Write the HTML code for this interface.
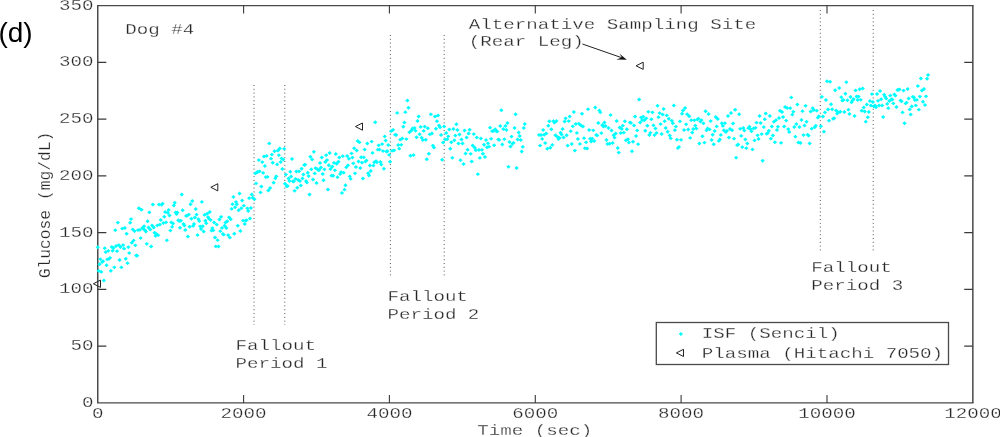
<!DOCTYPE html><html><head><meta charset="utf-8"><title>Dog #4 glucose</title>
<style>html,body{margin:0;padding:0;background:#fff}svg{display:block}text{font-family:"Liberation Mono","DejaVu Sans Mono",monospace;font-size:14.5px;fill:#262626;stroke:#fff;stroke-width:0.25px}.lab{font-family:"Liberation Sans",Arial,sans-serif;font-size:28px;fill:#000;stroke:none}.ax{stroke:#4a4a4a;stroke-width:1.3;fill:none}.axv{stroke:#4a4a4a;stroke-width:1.5;fill:none}.dot{stroke:#555;stroke-width:1;stroke-dasharray:1 2.8;fill:none}.tri{stroke:#222;stroke-width:1;fill:none}</style></head><body>
<svg width="1000" height="437" viewBox="0 0 1000 437">
<rect width="1000" height="437" fill="#fff"/>
<path class="ax" d="M97.05 5.6H973.5500000000001M97.05 402.9H973.5500000000001"/>
<path class="axv" d="M97.75 5.6V402.9M972.85 5.6V402.9"/>
<path class="axv" style="stroke-width:1.1;stroke:#3a3a3a" d="M243.6 402.9v-8M243.6 5.6v8M389.4 402.9v-8M389.4 5.6v8M535.3 402.9v-8M535.3 5.6v8M681.1 402.9v-8M681.1 5.6v8M827.0 402.9v-8M827.0 5.6v8"/>
<path class="ax" style="stroke-width:1.1;stroke:#3a3a3a" d="M97.75 346.1h8.6M972.85 346.1h-8.6M97.75 289.4h8.6M972.85 289.4h-8.6M97.75 232.6h8.6M972.85 232.6h-8.6M97.75 175.9h8.6M972.85 175.9h-8.6M97.75 119.1h8.6M972.85 119.1h-8.6M97.75 62.4h8.6M972.85 62.4h-8.6"/>
<text transform="translate(97.8,417.5) scale(1.322,1)" text-anchor="middle">0</text>
<text transform="translate(243.6,417.5) scale(1.322,1)" text-anchor="middle">2000</text>
<text transform="translate(389.4,417.5) scale(1.322,1)" text-anchor="middle">4000</text>
<text transform="translate(535.3,417.5) scale(1.322,1)" text-anchor="middle">6000</text>
<text transform="translate(681.1,417.5) scale(1.322,1)" text-anchor="middle">8000</text>
<text transform="translate(827.0,417.5) scale(1.322,1)" text-anchor="middle">10000</text>
<text transform="translate(972.9,417.5) scale(1.322,1)" text-anchor="middle">12000</text>
<text transform="translate(93.5,406.9) scale(1.322,1)" text-anchor="end">0</text>
<text transform="translate(93.5,350.1) scale(1.322,1)" text-anchor="end">50</text>
<text transform="translate(93.5,293.4) scale(1.322,1)" text-anchor="end">100</text>
<text transform="translate(93.5,236.6) scale(1.322,1)" text-anchor="end">150</text>
<text transform="translate(93.5,179.9) scale(1.322,1)" text-anchor="end">200</text>
<text transform="translate(93.5,123.1) scale(1.322,1)" text-anchor="end">250</text>
<text transform="translate(93.5,66.4) scale(1.322,1)" text-anchor="end">300</text>
<text transform="translate(93.5,9.6) scale(1.322,1)" text-anchor="end">350</text>
<text transform="translate(534.7,434.6) scale(1.322,1)" text-anchor="middle">Time (sec)</text>
<text transform="translate(50.2,205) rotate(-90)" text-anchor="middle" style="font-size:16.3px;stroke-width:0.2px">Glucose (mg/dL)</text>
<text class="lab" x="-1.6" y="42.2">(d)</text>
<path class="dot" d="M254 85V325"/>
<path class="dot" d="M284.8 85V325"/>
<path class="dot" d="M390.4 35V276"/>
<path class="dot" d="M444.2 35V276"/>
<path class="dot" d="M820.3 10V251"/>
<path class="dot" d="M873.2 10V251"/>
<path d="M95.6 247.2L97.8 245.3L99.9 247.2L97.8 249.2ZM96.5 270.8L98.6 268.9L100.8 270.8L98.6 272.8ZM97.4 264.3L99.5 262.3L101.7 264.3L99.5 266.2ZM98.2 259.2L100.4 257.2L102.5 259.2L100.4 261.1ZM99.1 271.9L101.3 269.9L103.4 271.9L101.3 273.8ZM100.0 262.0L102.1 260.1L104.3 262.0L102.1 264.0ZM100.9 261.3L103.0 259.3L105.2 261.3L103.0 263.2ZM101.7 280.4L103.9 278.5L106.0 280.4L103.9 282.4ZM102.6 248.2L104.8 246.2L106.9 248.2L104.8 250.1ZM103.5 252.1L105.6 250.2L107.8 252.1L105.6 254.1ZM104.4 265.3L106.5 263.3L108.7 265.3L106.5 267.2ZM105.2 259.3L107.4 257.4L109.5 259.3L107.4 261.3ZM106.1 250.9L108.3 248.9L110.4 250.9L108.3 252.8ZM107.0 258.8L109.1 256.9L111.3 258.8L109.1 260.8ZM107.9 257.8L110.0 255.9L112.2 257.8L110.0 259.8ZM108.7 270.8L110.9 268.9L113.0 270.8L110.9 272.8ZM109.6 247.0L111.8 245.0L113.9 247.0L111.8 248.9ZM110.5 250.8L112.6 248.8L114.8 250.8L112.6 252.7ZM111.4 248.0L113.5 246.0L115.7 248.0L113.5 249.9ZM112.2 267.3L114.4 265.4L116.5 267.3L114.4 269.3ZM113.1 230.2L115.3 228.2L117.4 230.2L115.3 232.1ZM114.0 246.1L116.1 244.1L118.3 246.1L116.1 248.0ZM114.9 251.2L117.0 249.2L119.2 251.2L117.0 253.1ZM115.7 222.6L117.9 220.7L120.0 222.6L117.9 224.6ZM116.6 245.1L118.8 243.2L120.9 245.1L118.8 247.1ZM117.5 260.0L119.6 258.0L121.8 260.0L119.6 261.9ZM118.4 247.0L120.5 245.1L122.7 247.0L120.5 249.0ZM119.2 267.3L121.4 265.4L123.5 267.3L121.4 269.3ZM120.1 228.6L122.3 226.7L124.4 228.6L122.3 230.6ZM121.0 245.1L123.1 243.2L125.3 245.1L123.1 247.1ZM121.9 248.7L124.0 246.7L126.2 248.7L124.0 250.6ZM122.7 228.0L124.9 226.0L127.0 228.0L124.9 229.9ZM123.6 258.7L125.8 256.8L127.9 258.7L125.8 260.7ZM124.5 233.8L126.6 231.8L128.8 233.8L126.6 235.7ZM125.4 263.2L127.5 261.2L129.7 263.2L127.5 265.1ZM126.2 247.1L128.4 245.2L130.5 247.1L128.4 249.1ZM127.1 253.1L129.3 251.2L131.4 253.1L129.3 255.1ZM128.0 222.7L130.1 220.8L132.3 222.7L130.1 224.7ZM128.9 219.1L131.0 217.2L133.2 219.1L131.0 221.1ZM129.7 242.8L131.9 240.8L134.0 242.8L131.9 244.7ZM130.6 229.4L132.8 227.4L134.9 229.4L132.8 231.3ZM131.5 240.4L133.6 238.4L135.8 240.4L133.6 242.3ZM132.4 231.1L134.5 229.2L136.7 231.1L134.5 233.1ZM133.2 245.3L135.4 243.4L137.5 245.3L135.4 247.3ZM134.1 255.4L136.3 253.5L138.4 255.4L136.3 257.4ZM135.0 255.7L137.1 253.8L139.3 255.7L137.1 257.7ZM135.9 230.1L138.0 228.2L140.2 230.1L138.0 232.1ZM136.7 208.2L138.9 206.3L141.0 208.2L138.9 210.2ZM137.6 229.9L139.8 227.9L141.9 229.9L139.8 231.8ZM138.5 238.1L140.6 236.2L142.8 238.1L140.6 240.1ZM139.4 209.7L141.5 207.8L143.7 209.7L141.5 211.7ZM140.2 228.0L142.4 226.0L144.5 228.0L142.4 229.9ZM141.1 228.7L143.3 226.8L145.4 228.7L143.3 230.7ZM142.0 226.3L144.1 224.3L146.3 226.3L144.1 228.2ZM142.9 230.1L145.0 228.2L147.2 230.1L145.0 232.1ZM143.7 231.6L145.9 229.6L148.0 231.6L145.9 233.5ZM144.6 243.8L146.8 241.9L148.9 243.8L146.8 245.8ZM145.5 221.3L147.6 219.3L149.8 221.3L147.6 223.2ZM146.4 227.5L148.5 225.6L150.7 227.5L148.5 229.5ZM147.2 212.3L149.4 210.4L151.5 212.3L149.4 214.3ZM148.1 229.5L150.3 227.6L152.4 229.5L150.3 231.5ZM149.0 246.4L151.1 244.5L153.3 246.4L151.1 248.4ZM149.9 225.4L152.0 223.4L154.2 225.4L152.0 227.3ZM150.7 204.4L152.9 202.5L155.0 204.4L152.9 206.4ZM151.6 227.5L153.8 225.6L155.9 227.5L153.8 229.5ZM152.5 232.7L154.6 230.8L156.8 232.7L154.6 234.7ZM153.4 235.9L155.5 233.9L157.7 235.9L155.5 237.8ZM154.2 234.0L156.4 232.1L158.5 234.0L156.4 236.0ZM155.1 225.4L157.3 223.4L159.4 225.4L157.3 227.3ZM156.0 235.2L158.1 233.2L160.3 235.2L158.1 237.1ZM156.9 204.6L159.0 202.6L161.2 204.6L159.0 206.5ZM157.7 224.6L159.9 222.7L162.0 224.6L159.9 226.6ZM158.6 220.0L160.8 218.0L162.9 220.0L160.8 221.9ZM159.5 204.7L161.6 202.8L163.8 204.7L161.6 206.7ZM160.4 203.8L162.5 201.8L164.7 203.8L162.5 205.7ZM161.2 223.1L163.4 221.1L165.5 223.1L163.4 225.0ZM162.1 216.7L164.3 214.8L166.4 216.7L164.3 218.7ZM163.0 212.0L165.1 210.0L167.3 212.0L165.1 213.9ZM163.9 222.3L166.0 220.4L168.2 222.3L166.0 224.3ZM164.7 240.3L166.9 238.4L169.0 240.3L166.9 242.3ZM165.6 212.7L167.8 210.8L169.9 212.7L167.8 214.7ZM166.5 210.0L168.6 208.0L170.8 210.0L168.6 211.9ZM167.4 215.4L169.5 213.5L171.7 215.4L169.5 217.4ZM168.2 230.6L170.4 228.7L172.5 230.6L170.4 232.6ZM169.1 222.4L171.3 220.4L173.4 222.4L171.3 224.3ZM170.0 226.8L172.1 224.9L174.3 226.8L172.1 228.8ZM170.9 223.5L173.0 221.6L175.2 223.5L173.0 225.5ZM171.7 205.4L173.9 203.5L176.0 205.4L173.9 207.4ZM172.6 202.8L174.8 200.8L176.9 202.8L174.8 204.7ZM173.5 212.5L175.6 210.6L177.8 212.5L175.6 214.5ZM174.4 213.9L176.5 212.0L178.7 213.9L176.5 215.9ZM175.2 212.5L177.4 210.5L179.5 212.5L177.4 214.4ZM176.1 220.3L178.3 218.3L180.4 220.3L178.3 222.2ZM177.0 221.0L179.1 219.1L181.3 221.0L179.1 223.0ZM177.9 227.8L180.0 225.8L182.2 227.8L180.0 229.7ZM178.7 220.8L180.9 218.8L183.0 220.8L180.9 222.7ZM179.6 194.5L181.8 192.5L183.9 194.5L181.8 196.4ZM180.5 210.3L182.6 208.3L184.8 210.3L182.6 212.2ZM181.4 224.0L183.5 222.1L185.7 224.0L183.5 226.0ZM182.2 225.5L184.4 223.5L186.5 225.5L184.4 227.4ZM183.1 230.0L185.3 228.0L187.4 230.0L185.3 231.9ZM184.0 215.9L186.1 213.9L188.3 215.9L186.1 217.8ZM184.9 215.7L187.0 213.7L189.2 215.7L187.0 217.6ZM185.7 236.5L187.9 234.6L190.0 236.5L187.9 238.5ZM186.6 214.7L188.8 212.7L190.9 214.7L188.8 216.6ZM187.5 226.8L189.6 224.8L191.8 226.8L189.6 228.7ZM188.4 204.2L190.5 202.3L192.7 204.2L190.5 206.2ZM189.2 218.7L191.4 216.8L193.5 218.7L191.4 220.7ZM190.1 201.1L192.3 199.1L194.4 201.1L192.3 203.0ZM191.0 225.9L193.1 223.9L195.3 225.9L193.1 227.8ZM191.9 224.0L194.0 222.1L196.2 224.0L194.0 226.0ZM192.7 217.4L194.9 215.5L197.0 217.4L194.9 219.4ZM193.6 209.0L195.8 207.0L197.9 209.0L195.8 210.9ZM194.5 214.6L196.6 212.7L198.8 214.6L196.6 216.6ZM195.4 235.1L197.5 233.2L199.7 235.1L197.5 237.1ZM196.2 219.1L198.4 217.2L200.5 219.1L198.4 221.1ZM197.1 221.1L199.3 219.1L201.4 221.1L199.3 223.0ZM198.0 226.3L200.1 224.4L202.3 226.3L200.1 228.3ZM198.9 228.9L201.0 227.0L203.2 228.9L201.0 230.9ZM199.7 201.9L201.9 199.9L204.0 201.9L201.9 203.8ZM200.6 226.3L202.8 224.3L204.9 226.3L202.8 228.2ZM201.5 231.6L203.6 229.6L205.8 231.6L203.6 233.5ZM202.4 214.9L204.5 212.9L206.7 214.9L204.5 216.8ZM203.2 220.8L205.4 218.8L207.5 220.8L205.4 222.7ZM204.1 223.3L206.3 221.3L208.4 223.3L206.3 225.2ZM205.0 213.7L207.1 211.7L209.3 213.7L207.1 215.6ZM205.9 217.1L208.0 215.2L210.2 217.1L208.0 219.1ZM206.7 218.7L208.9 216.7L211.0 218.7L208.9 220.6ZM207.6 212.0L209.8 210.0L211.9 212.0L209.8 213.9ZM208.5 220.0L210.6 218.1L212.8 220.0L210.6 222.0ZM209.4 230.6L211.5 228.7L213.7 230.6L211.5 232.6ZM210.2 228.1L212.4 226.2L214.5 228.1L212.4 230.1ZM211.1 230.3L213.3 228.4L215.4 230.3L213.3 232.3ZM212.0 222.4L214.1 220.5L216.3 222.4L214.1 224.4ZM212.9 237.4L215.0 235.5L217.2 237.4L215.0 239.4ZM213.7 246.4L215.9 244.4L218.0 246.4L215.9 248.3ZM214.6 224.6L216.8 222.7L218.9 224.6L216.8 226.6ZM215.5 240.2L217.6 238.2L219.8 240.2L217.6 242.1ZM216.4 246.5L218.5 244.6L220.7 246.5L218.5 248.5ZM217.2 219.5L219.4 217.5L221.5 219.5L219.4 221.4ZM218.1 231.2L220.3 229.2L222.4 231.2L220.3 233.1ZM219.0 216.8L221.1 214.9L223.3 216.8L221.1 218.8ZM219.9 227.9L222.0 225.9L224.2 227.9L222.0 229.8ZM220.7 233.9L222.9 232.0L225.0 233.9L222.9 235.9ZM221.6 234.7L223.8 232.7L225.9 234.7L223.8 236.6ZM222.5 225.8L224.6 223.8L226.8 225.8L224.6 227.7ZM223.4 222.4L225.5 220.5L227.7 222.4L225.5 224.4ZM224.2 228.0L226.4 226.1L228.5 228.0L226.4 230.0ZM225.1 221.2L227.3 219.3L229.4 221.2L227.3 223.2ZM226.0 235.1L228.1 233.2L230.3 235.1L228.1 237.1ZM226.9 217.3L229.0 215.4L231.2 217.3L229.0 219.3ZM227.7 237.6L229.9 235.7L232.0 237.6L229.9 239.6ZM228.6 219.2L230.8 217.3L232.9 219.2L230.8 221.2ZM229.5 208.9L231.6 206.9L233.8 208.9L231.6 210.8ZM230.4 204.2L232.5 202.2L234.7 204.2L232.5 206.1ZM231.2 196.9L233.4 194.9L235.5 196.9L233.4 198.8ZM232.1 233.8L234.3 231.8L236.4 233.8L234.3 235.7ZM233.0 207.3L235.1 205.3L237.3 207.3L235.1 209.2ZM233.9 202.0L236.0 200.0L238.2 202.0L236.0 203.9ZM234.7 204.3L236.9 202.4L239.0 204.3L236.9 206.3ZM235.6 225.8L237.8 223.8L239.9 225.8L237.8 227.7ZM236.5 210.3L238.6 208.3L240.8 210.3L238.6 212.2ZM237.4 193.4L239.5 191.5L241.7 193.4L239.5 195.4ZM238.2 231.1L240.4 229.1L242.5 231.1L240.4 233.0ZM239.1 208.2L241.3 206.3L243.4 208.2L241.3 210.2ZM240.0 200.5L242.1 198.6L244.3 200.5L242.1 202.5ZM240.9 220.6L243.0 218.7L245.2 220.6L243.0 222.6ZM241.7 205.7L243.9 203.7L246.0 205.7L243.9 207.6ZM242.6 224.0L244.8 222.0L246.9 224.0L244.8 225.9ZM243.5 220.6L245.6 218.7L247.8 220.6L245.6 222.6ZM244.4 220.2L246.5 218.3L248.7 220.2L246.5 222.2ZM245.2 208.3L247.4 206.4L249.5 208.3L247.4 210.3ZM246.1 211.1L248.3 209.1L250.4 211.1L248.3 213.0ZM247.0 198.2L249.1 196.2L251.3 198.2L249.1 200.1ZM247.9 218.4L250.0 216.5L252.2 218.4L250.0 220.4ZM248.7 208.0L250.9 206.1L253.0 208.0L250.9 210.0ZM249.6 194.4L251.8 192.4L253.9 194.4L251.8 196.3ZM250.5 197.7L252.6 195.7L254.8 197.7L252.6 199.6ZM252.2 199.3L254.4 197.3L256.5 199.3L254.4 201.2ZM253.1 173.4L255.3 171.4L257.4 173.4L255.3 175.3ZM254.0 183.4L256.1 181.4L258.3 183.4L256.1 185.3ZM254.9 172.2L257.0 170.3L259.2 172.2L257.0 174.2ZM255.7 171.9L257.9 169.9L260.0 171.9L257.9 173.8ZM256.6 160.1L258.8 158.2L260.9 160.1L258.8 162.1ZM257.5 171.3L259.6 169.4L261.8 171.3L259.6 173.3ZM258.4 192.4L260.5 190.4L262.7 192.4L260.5 194.3ZM259.2 186.4L261.4 184.5L263.5 186.4L261.4 188.4ZM260.1 162.1L262.3 160.2L264.4 162.1L262.3 164.1ZM261.0 172.9L263.1 170.9L265.3 172.9L263.1 174.8ZM261.9 156.6L264.0 154.6L266.2 156.6L264.0 158.5ZM262.7 166.0L264.9 164.0L267.0 166.0L264.9 167.9ZM263.6 177.1L265.8 175.2L267.9 177.1L265.8 179.1ZM264.5 155.9L266.6 153.9L268.8 155.9L266.6 157.8ZM265.4 176.9L267.5 174.9L269.7 176.9L267.5 178.8ZM266.2 190.6L268.4 188.6L270.5 190.6L268.4 192.5ZM267.1 143.4L269.3 141.4L271.4 143.4L269.3 145.3ZM268.0 188.0L270.1 186.1L272.3 188.0L270.1 190.0ZM268.9 158.7L271.0 156.7L273.2 158.7L271.0 160.6ZM269.7 154.6L271.9 152.7L274.0 154.6L271.9 156.6ZM270.6 162.8L272.8 160.8L274.9 162.8L272.8 164.7ZM271.5 182.7L273.6 180.8L275.8 182.7L273.6 184.7ZM272.4 151.2L274.5 149.3L276.7 151.2L274.5 153.2ZM273.2 178.3L275.4 176.3L277.5 178.3L275.4 180.2ZM274.1 176.3L276.3 174.4L278.4 176.3L276.3 178.3ZM275.0 164.4L277.1 162.4L279.3 164.4L277.1 166.3ZM275.9 150.5L278.0 148.5L280.2 150.5L278.0 152.4ZM276.7 155.2L278.9 153.2L281.0 155.2L278.9 157.1ZM277.6 148.5L279.8 146.6L281.9 148.5L279.8 150.5ZM278.5 161.9L280.6 160.0L282.8 161.9L280.6 163.9ZM279.4 158.4L281.5 156.4L283.7 158.4L281.5 160.3ZM280.2 169.0L282.4 167.1L284.5 169.0L282.4 171.0ZM281.1 159.4L283.3 157.5L285.4 159.4L283.3 161.4ZM282.0 148.8L284.1 146.9L286.3 148.8L284.1 150.8ZM282.9 183.8L285.0 181.8L287.2 183.8L285.0 185.7ZM283.7 174.6L285.9 172.7L288.0 174.6L285.9 176.6ZM284.6 186.2L286.8 184.3L288.9 186.2L286.8 188.2ZM285.5 186.1L287.6 184.1L289.8 186.1L287.6 188.0ZM286.4 178.6L288.5 176.6L290.7 178.6L288.5 180.5ZM287.2 180.9L289.4 179.0L291.5 180.9L289.4 182.9ZM288.1 171.8L290.3 169.8L292.4 171.8L290.3 173.7ZM289.0 176.6L291.1 174.6L293.3 176.6L291.1 178.5ZM289.9 159.0L292.0 157.0L294.2 159.0L292.0 160.9ZM290.7 181.3L292.9 179.4L295.0 181.3L292.9 183.3ZM291.6 181.5L293.8 179.5L295.9 181.5L293.8 183.4ZM292.5 190.8L294.6 188.9L296.8 190.8L294.6 192.8ZM293.4 178.9L295.5 176.9L297.7 178.9L295.5 180.8ZM294.2 171.5L296.4 169.5L298.5 171.5L296.4 173.4ZM295.1 187.7L297.3 185.8L299.4 187.7L297.3 189.7ZM296.0 180.0L298.1 178.0L300.3 180.0L298.1 181.9ZM296.9 171.3L299.0 169.4L301.2 171.3L299.0 173.3ZM297.7 181.0L299.9 179.1L302.0 181.0L299.9 183.0ZM298.6 185.6L300.8 183.6L302.9 185.6L300.8 187.5ZM299.5 168.8L301.6 166.8L303.8 168.8L301.6 170.7ZM300.4 178.4L302.5 176.4L304.7 178.4L302.5 180.3ZM301.2 174.4L303.4 172.5L305.5 174.4L303.4 176.4ZM302.1 165.0L304.3 163.1L306.4 165.0L304.3 167.0ZM303.0 164.8L305.1 162.8L307.3 164.8L305.1 166.7ZM303.9 181.1L306.0 179.2L308.2 181.1L306.0 183.1ZM304.7 182.6L306.9 180.6L309.0 182.6L306.9 184.5ZM305.6 172.8L307.8 170.8L309.9 172.8L307.8 174.7ZM306.5 176.1L308.6 174.2L310.8 176.1L308.6 178.1ZM307.4 194.5L309.5 192.5L311.7 194.5L309.5 196.4ZM308.2 156.8L310.4 154.8L312.5 156.8L310.4 158.7ZM309.1 169.3L311.3 167.4L313.4 169.3L311.3 171.3ZM310.0 159.5L312.1 157.6L314.3 159.5L312.1 161.5ZM310.9 179.5L313.0 177.6L315.2 179.5L313.0 181.5ZM311.7 151.8L313.9 149.9L316.0 151.8L313.9 153.8ZM312.6 173.4L314.8 171.4L316.9 173.4L314.8 175.3ZM313.5 168.1L315.6 166.2L317.8 168.1L315.6 170.1ZM314.4 183.0L316.5 181.1L318.7 183.0L316.5 185.0ZM315.3 169.3L317.4 167.3L319.6 169.3L317.4 171.2ZM316.1 170.2L318.3 168.2L320.4 170.2L318.3 172.1ZM317.0 169.9L319.2 168.0L321.3 169.9L319.2 171.9ZM317.9 163.1L320.0 161.1L322.2 163.1L320.0 165.0ZM318.8 167.6L320.9 165.6L323.1 167.6L320.9 169.5ZM319.6 157.4L321.8 155.5L323.9 157.4L321.8 159.4ZM320.5 174.0L322.7 172.1L324.8 174.0L322.7 176.0ZM321.4 180.2L323.5 178.3L325.7 180.2L323.5 182.2ZM322.3 169.3L324.4 167.4L326.6 169.3L324.4 171.3ZM323.1 162.1L325.3 160.1L327.4 162.1L325.3 164.0ZM324.0 155.2L326.2 153.2L328.3 155.2L326.2 157.1ZM324.9 160.1L327.0 158.2L329.2 160.1L327.0 162.1ZM325.8 189.5L327.9 187.6L330.1 189.5L327.9 191.5ZM326.6 165.3L328.8 163.3L330.9 165.3L328.8 167.2ZM327.5 153.1L329.7 151.1L331.8 153.1L329.7 155.0ZM328.4 169.0L330.5 167.1L332.7 169.0L330.5 171.0ZM329.3 175.7L331.4 173.7L333.6 175.7L331.4 177.6ZM330.1 166.4L332.3 164.5L334.4 166.4L332.3 168.4ZM331.0 175.7L333.2 173.8L335.3 175.7L333.2 177.7ZM331.9 162.8L334.0 160.9L336.2 162.8L334.0 164.8ZM332.8 170.3L334.9 168.4L337.1 170.3L334.9 172.3ZM333.6 154.0L335.8 152.1L337.9 154.0L335.8 156.0ZM334.5 163.7L336.7 161.8L338.8 163.7L336.7 165.7ZM335.4 177.2L337.5 175.2L339.7 177.2L337.5 179.1ZM336.3 161.7L338.4 159.7L340.6 161.7L338.4 163.6ZM337.1 157.5L339.3 155.5L341.4 157.5L339.3 159.4ZM338.0 174.1L340.2 172.2L342.3 174.1L340.2 176.1ZM338.9 172.1L341.0 170.2L343.2 172.1L341.0 174.1ZM339.8 193.0L341.9 191.1L344.1 193.0L341.9 195.0ZM340.6 156.2L342.8 154.2L344.9 156.2L342.8 158.1ZM341.5 172.7L343.7 170.7L345.8 172.7L343.7 174.6ZM342.4 189.7L344.5 187.7L346.7 189.7L344.5 191.6ZM343.3 185.2L345.4 183.3L347.6 185.2L345.4 187.2ZM344.1 167.3L346.3 165.4L348.4 167.3L346.3 169.3ZM345.0 155.9L347.2 154.0L349.3 155.9L347.2 157.9ZM345.9 165.3L348.0 163.4L350.2 165.3L348.0 167.3ZM346.8 158.8L348.9 156.8L351.1 158.8L348.9 160.7ZM347.6 176.4L349.8 174.4L351.9 176.4L349.8 178.3ZM348.5 178.9L350.7 176.9L352.8 178.9L350.7 180.8ZM349.4 153.4L351.5 151.4L353.7 153.4L351.5 155.3ZM350.3 157.6L352.4 155.7L354.6 157.6L352.4 159.6ZM351.1 163.3L353.3 161.4L355.4 163.3L353.3 165.3ZM352.0 148.2L354.2 146.3L356.3 148.2L354.2 150.2ZM352.9 173.3L355.0 171.4L357.2 173.3L355.0 175.3ZM353.8 167.1L355.9 165.1L358.1 167.1L355.9 169.0ZM354.6 150.4L356.8 148.5L358.9 150.4L356.8 152.4ZM355.5 141.0L357.7 139.0L359.8 141.0L357.7 142.9ZM356.4 161.5L358.5 159.6L360.7 161.5L358.5 163.5ZM357.3 142.3L359.4 140.4L361.6 142.3L359.4 144.3ZM358.1 168.0L360.3 166.1L362.4 168.0L360.3 170.0ZM359.0 157.2L361.2 155.3L363.3 157.2L361.2 159.2ZM359.9 162.7L362.0 160.7L364.2 162.7L362.0 164.6ZM360.8 178.5L362.9 176.6L365.1 178.5L362.9 180.5ZM361.6 157.3L363.8 155.4L365.9 157.3L363.8 159.3ZM362.5 149.5L364.7 147.5L366.8 149.5L364.7 151.4ZM363.4 161.5L365.5 159.6L367.7 161.5L365.5 163.5ZM364.3 160.4L366.4 158.4L368.6 160.4L366.4 162.3ZM365.1 143.6L367.3 141.6L369.4 143.6L367.3 145.5ZM366.0 173.3L368.2 171.3L370.3 173.3L368.2 175.2ZM366.9 175.5L369.0 173.6L371.2 175.5L369.0 177.5ZM367.8 165.4L369.9 163.5L372.1 165.4L369.9 167.4ZM368.6 171.0L370.8 169.1L372.9 171.0L370.8 173.0ZM369.5 141.6L371.7 139.7L373.8 141.6L371.7 143.6ZM370.4 152.9L372.5 150.9L374.7 152.9L372.5 154.8ZM371.3 165.6L373.4 163.7L375.6 165.6L373.4 167.6ZM372.1 162.3L374.3 160.3L376.4 162.3L374.3 164.2ZM373.0 122.3L375.2 120.3L377.3 122.3L375.2 124.2ZM373.9 161.1L376.0 159.2L378.2 161.1L376.0 163.1ZM374.8 162.3L376.9 160.4L379.1 162.3L376.9 164.3ZM375.6 149.7L377.8 147.7L379.9 149.7L377.8 151.6ZM376.5 145.3L378.7 143.4L380.8 145.3L378.7 147.3ZM377.4 149.6L379.5 147.7L381.7 149.6L379.5 151.6ZM378.3 162.0L380.4 160.1L382.6 162.0L380.4 164.0ZM379.1 164.5L381.3 162.5L383.4 164.5L381.3 166.4ZM380.0 144.1L382.2 142.2L384.3 144.1L382.2 146.1ZM380.9 151.1L383.0 149.2L385.2 151.1L383.0 153.1ZM381.8 168.7L383.9 166.8L386.1 168.7L383.9 170.7ZM382.6 136.4L384.8 134.4L386.9 136.4L384.8 138.3ZM383.5 140.5L385.7 138.5L387.8 140.5L385.7 142.4ZM384.4 151.6L386.5 149.6L388.7 151.6L386.5 153.5ZM385.3 151.3L387.4 149.3L389.6 151.3L387.4 153.2ZM386.1 145.1L388.3 143.1L390.4 145.1L388.3 147.0ZM387.0 154.9L389.2 152.9L391.3 154.9L389.2 156.8ZM387.9 161.8L390.0 159.8L392.2 161.8L390.0 163.7ZM388.9 131.2L391.1 129.2L393.2 131.2L391.1 133.1ZM389.9 150.9L392.1 148.9L394.2 150.9L392.1 152.8ZM390.9 129.8L393.1 127.9L395.2 129.8L393.1 131.8ZM392.0 150.3L394.1 148.4L396.3 150.3L394.1 152.3ZM393.0 134.8L395.1 132.8L397.3 134.8L395.1 136.7ZM394.0 134.9L396.2 133.0L398.3 134.9L396.2 136.9ZM395.0 112.9L397.2 110.9L399.3 112.9L397.2 114.8ZM396.1 144.9L398.2 143.0L400.4 144.9L398.2 146.9ZM397.1 148.7L399.2 146.7L401.4 148.7L399.2 150.6ZM398.1 139.7L400.2 137.7L402.4 139.7L400.2 141.6ZM399.1 144.8L401.3 142.9L403.4 144.8L401.3 146.8ZM400.1 138.5L402.3 136.5L404.4 138.5L402.3 140.4ZM401.2 126.8L403.3 124.8L405.5 126.8L403.3 128.7ZM402.2 122.5L404.3 120.6L406.5 122.5L404.3 124.5ZM403.2 112.2L405.3 110.2L407.5 112.2L405.3 114.1ZM404.2 139.1L406.4 137.2L408.5 139.1L406.4 141.1ZM405.2 100.5L407.4 98.6L409.5 100.5L407.4 102.5ZM406.3 107.7L408.4 105.8L410.6 107.7L408.4 109.7ZM407.3 132.3L409.4 130.4L411.6 132.3L409.4 134.3ZM408.3 155.8L410.5 153.8L412.6 155.8L410.5 157.7ZM409.3 130.5L411.5 128.5L413.6 130.5L411.5 132.4ZM410.3 128.5L412.5 126.5L414.6 128.5L412.5 130.4ZM411.4 155.1L413.5 153.2L415.7 155.1L413.5 157.1ZM412.4 128.0L414.5 126.0L416.7 128.0L414.5 129.9ZM413.4 130.8L415.6 128.9L417.7 130.8L415.6 132.8ZM414.4 137.2L416.6 135.3L418.7 137.2L416.6 139.2ZM415.4 121.0L417.6 119.0L419.7 121.0L417.6 122.9ZM416.5 116.5L418.6 114.6L420.8 116.5L418.6 118.5ZM417.5 134.2L419.6 132.3L421.8 134.2L419.6 136.2ZM418.5 126.9L420.7 124.9L422.8 126.9L420.7 128.8ZM419.5 137.7L421.7 135.7L423.8 137.7L421.7 139.6ZM420.6 140.0L422.7 138.0L424.9 140.0L422.7 141.9ZM421.6 130.9L423.7 128.9L425.9 130.9L423.7 132.8ZM422.6 126.6L424.7 124.7L426.9 126.6L424.7 128.6ZM423.6 139.7L425.8 137.8L427.9 139.7L425.8 141.7ZM424.6 159.2L426.8 157.3L428.9 159.2L426.8 161.2ZM425.7 128.2L427.8 126.3L430.0 128.2L427.8 130.2ZM426.7 153.8L428.8 151.8L431.0 153.8L428.8 155.7ZM427.7 134.3L429.9 132.4L432.0 134.3L429.9 136.3ZM428.7 114.3L430.9 112.4L433.0 114.3L430.9 116.3ZM429.7 133.5L431.9 131.6L434.0 133.5L431.9 135.5ZM430.8 145.6L432.9 143.7L435.1 145.6L432.9 147.6ZM431.8 147.5L433.9 145.6L436.1 147.5L433.9 149.5ZM432.8 116.4L435.0 114.5L437.1 116.4L435.0 118.4ZM433.8 128.7L436.0 126.8L438.1 128.7L436.0 130.7ZM434.8 121.2L437.0 119.2L439.1 121.2L437.0 123.1ZM435.9 115.6L438.0 113.6L440.2 115.6L438.0 117.5ZM436.9 125.5L439.0 123.5L441.2 125.5L439.0 127.4ZM437.9 127.3L440.1 125.4L442.2 127.3L440.1 129.3ZM438.9 135.1L441.1 133.1L443.2 135.1L441.1 137.0ZM440.0 159.8L442.1 157.8L444.3 159.8L442.1 161.7ZM441.0 142.5L443.1 140.6L445.3 142.5L443.1 144.5ZM442.0 126.6L444.1 124.6L446.3 126.6L444.1 128.5ZM443.0 139.4L445.2 137.4L447.3 139.4L445.2 141.3ZM444.0 133.1L446.2 131.1L448.3 133.1L446.2 135.0ZM445.1 139.3L447.2 137.4L449.4 139.3L447.2 141.3ZM446.1 136.3L448.2 134.4L450.4 136.3L448.2 138.3ZM447.1 129.5L449.2 127.5L451.4 129.5L449.2 131.4ZM448.1 148.7L450.3 146.8L452.4 148.7L450.3 150.7ZM449.1 142.3L451.3 140.3L453.4 142.3L451.3 144.2ZM450.2 157.8L452.3 155.9L454.5 157.8L452.3 159.8ZM451.2 129.1L453.3 127.1L455.5 129.1L453.3 131.0ZM452.2 140.2L454.4 138.3L456.5 140.2L454.4 142.2ZM453.2 135.6L455.4 133.7L457.5 135.6L455.4 137.6ZM454.2 124.2L456.4 122.3L458.5 124.2L456.4 126.2ZM455.3 130.0L457.4 128.1L459.6 130.0L457.4 132.0ZM456.3 143.5L458.4 141.6L460.6 143.5L458.4 145.5ZM457.3 134.4L459.5 132.5L461.6 134.4L459.5 136.4ZM458.3 160.2L460.5 158.2L462.6 160.2L460.5 162.1ZM459.3 139.5L461.5 137.6L463.6 139.5L461.5 141.5ZM460.4 143.4L462.5 141.5L464.7 143.4L462.5 145.4ZM461.4 163.9L463.5 162.0L465.7 163.9L463.5 165.9ZM462.4 130.5L464.6 128.5L466.7 130.5L464.6 132.4ZM463.4 153.4L465.6 151.5L467.7 153.4L465.6 155.4ZM464.5 137.5L466.6 135.5L468.8 137.5L466.6 139.4ZM465.5 149.8L467.6 147.8L469.8 149.8L467.6 151.7ZM466.5 133.5L468.6 131.6L470.8 133.5L468.6 135.5ZM467.5 129.7L469.7 127.8L471.8 129.7L469.7 131.7ZM468.5 153.8L470.7 151.9L472.8 153.8L470.7 155.8ZM469.6 161.5L471.7 159.6L473.9 161.5L471.7 163.5ZM470.6 145.4L472.7 143.5L474.9 145.4L472.7 147.4ZM471.6 134.1L473.8 132.2L475.9 134.1L473.8 136.1ZM472.6 147.7L474.8 145.8L476.9 147.7L474.8 149.7ZM473.6 150.3L475.8 148.3L477.9 150.3L475.8 152.2ZM474.7 137.6L476.8 135.6L479.0 137.6L476.8 139.5ZM475.7 174.2L477.8 172.2L480.0 174.2L477.8 176.1ZM476.7 150.0L478.9 148.1L481.0 150.0L478.9 152.0ZM477.7 157.9L479.9 155.9L482.0 157.9L479.9 159.8ZM478.7 138.4L480.9 136.5L483.0 138.4L480.9 140.4ZM479.8 149.8L481.9 147.9L484.1 149.8L481.9 151.8ZM480.8 153.8L482.9 151.8L485.1 153.8L482.9 155.7ZM481.8 144.8L484.0 142.8L486.1 144.8L484.0 146.7ZM482.8 157.1L485.0 155.1L487.1 157.1L485.0 159.0ZM483.9 140.1L486.0 138.2L488.2 140.1L486.0 142.1ZM484.9 147.3L487.0 145.3L489.2 147.3L487.0 149.2ZM485.9 143.3L488.0 141.4L490.2 143.3L488.0 145.3ZM486.9 146.7L489.1 144.7L491.2 146.7L489.1 148.6ZM487.9 127.7L490.1 125.7L492.2 127.7L490.1 129.6ZM489.0 138.8L491.1 136.9L493.3 138.8L491.1 140.8ZM490.0 131.1L492.1 129.2L494.3 131.1L492.1 133.1ZM491.0 131.2L493.1 129.2L495.3 131.2L493.1 133.1ZM492.0 145.3L494.2 143.3L496.3 145.3L494.2 147.2ZM493.0 129.2L495.2 127.2L497.3 129.2L495.2 131.1ZM494.1 131.2L496.2 129.2L498.4 131.2L496.2 133.1ZM495.1 131.4L497.2 129.5L499.4 131.4L497.2 133.4ZM496.1 139.5L498.3 137.6L500.4 139.5L498.3 141.5ZM497.1 139.9L499.3 137.9L501.4 139.9L499.3 141.8ZM498.1 126.1L500.3 124.1L502.4 126.1L500.3 128.0ZM499.2 110.2L501.3 108.3L503.5 110.2L501.3 112.2ZM500.2 144.4L502.3 142.5L504.5 144.4L502.3 146.4ZM501.2 128.9L503.4 127.0L505.5 128.9L503.4 130.9ZM502.2 139.2L504.4 137.2L506.5 139.2L504.4 141.1ZM503.3 126.1L505.4 124.1L507.6 126.1L505.4 128.0ZM504.3 130.0L506.4 128.1L508.6 130.0L506.4 132.0ZM505.3 123.0L507.4 121.0L509.6 123.0L507.4 124.9ZM506.3 166.8L508.5 164.9L510.6 166.8L508.5 168.8ZM507.3 142.0L509.5 140.1L511.6 142.0L509.5 144.0ZM508.4 146.5L510.5 144.6L512.7 146.5L510.5 148.5ZM509.4 136.6L511.5 134.7L513.7 136.6L511.5 138.6ZM510.4 143.7L512.5 141.8L514.7 143.7L512.5 145.7ZM511.4 142.9L513.6 140.9L515.7 142.9L513.6 144.8ZM512.4 128.0L514.6 126.0L516.7 128.0L514.6 129.9ZM513.5 114.2L515.6 112.3L517.8 114.2L515.6 116.2ZM514.5 168.0L516.6 166.0L518.8 168.0L516.6 169.9ZM515.5 139.5L517.7 137.6L519.8 139.5L517.7 141.5ZM516.5 132.6L518.7 130.6L520.8 132.6L518.7 134.5ZM517.5 136.1L519.7 134.1L521.8 136.1L519.7 138.0ZM518.6 140.1L520.7 138.1L522.9 140.1L520.7 142.0ZM519.6 151.5L521.7 149.6L523.9 151.5L521.7 153.5ZM520.6 146.8L522.8 144.9L524.9 146.8L522.8 148.8ZM521.6 127.9L523.8 126.0L525.9 127.9L523.8 129.9ZM522.6 123.9L524.8 122.0L526.9 123.9L524.8 125.9ZM536.9 135.0L539.1 133.1L541.2 135.0L539.1 137.0ZM538.0 145.6L540.1 143.7L542.3 145.6L540.1 147.6ZM539.0 135.1L541.1 133.1L543.3 135.1L541.1 137.0ZM540.0 138.9L542.2 136.9L544.3 138.9L542.2 140.8ZM541.0 129.9L543.2 128.0L545.3 129.9L543.2 131.9ZM542.0 134.8L544.2 132.8L546.3 134.8L544.2 136.7ZM543.1 143.1L545.2 141.2L547.4 143.1L545.2 145.1ZM544.1 133.6L546.2 131.6L548.4 133.6L546.2 135.5ZM545.1 148.8L547.3 146.8L549.4 148.8L547.3 150.7ZM546.1 125.7L548.3 123.8L550.4 125.7L548.3 127.7ZM547.2 121.3L549.3 119.3L551.5 121.3L549.3 123.2ZM548.2 147.7L550.3 145.8L552.5 147.7L550.3 149.7ZM549.2 129.2L551.3 127.3L553.5 129.2L551.3 131.2ZM550.2 144.9L552.4 142.9L554.5 144.9L552.4 146.8ZM551.2 121.1L553.4 119.2L555.5 121.1L553.4 123.1ZM552.3 122.7L554.4 120.7L556.6 122.7L554.4 124.6ZM553.3 135.2L555.4 133.3L557.6 135.2L555.4 137.2ZM554.3 120.9L556.4 119.0L558.6 120.9L556.4 122.9ZM555.3 136.8L557.5 134.9L559.6 136.8L557.5 138.8ZM556.3 139.0L558.5 137.0L560.6 139.0L558.5 140.9ZM557.4 137.9L559.5 135.9L561.7 137.9L559.5 139.8ZM558.4 132.8L560.5 130.8L562.7 132.8L560.5 134.7ZM559.4 134.6L561.6 132.6L563.7 134.6L561.6 136.5ZM560.4 128.9L562.6 127.0L564.7 128.9L562.6 130.9ZM561.4 137.4L563.6 135.5L565.7 137.4L563.6 139.4ZM562.5 121.5L564.6 119.5L566.8 121.5L564.6 123.4ZM563.5 118.3L565.6 116.4L567.8 118.3L565.6 120.3ZM564.5 135.3L566.7 133.3L568.8 135.3L566.7 137.2ZM565.5 145.6L567.7 143.7L569.8 145.6L567.7 147.6ZM566.5 121.1L568.7 119.2L570.8 121.1L568.7 123.1ZM567.6 116.4L569.7 114.5L571.9 116.4L569.7 118.4ZM568.6 131.2L570.7 129.2L572.9 131.2L570.7 133.1ZM569.6 143.9L571.8 142.0L573.9 143.9L571.8 145.9ZM570.6 126.3L572.8 124.4L574.9 126.3L572.8 128.3ZM571.7 112.0L573.8 110.1L576.0 112.0L573.8 114.0ZM572.7 150.6L574.8 148.7L577.0 150.6L574.8 152.6ZM573.7 123.9L575.8 122.0L578.0 123.9L575.8 125.9ZM574.7 132.9L576.9 130.9L579.0 132.9L576.9 134.8ZM575.7 139.0L577.9 137.1L580.0 139.0L577.9 141.0ZM576.8 123.7L578.9 121.7L581.1 123.7L578.9 125.6ZM577.8 143.9L579.9 141.9L582.1 143.9L579.9 145.8ZM578.8 125.5L581.0 123.6L583.1 125.5L581.0 127.5ZM579.8 113.8L582.0 111.8L584.1 113.8L582.0 115.7ZM580.8 126.5L583.0 124.5L585.1 126.5L583.0 128.4ZM581.9 138.2L584.0 136.2L586.2 138.2L584.0 140.1ZM582.9 148.2L585.0 146.3L587.2 148.2L585.0 150.2ZM583.9 142.3L586.1 140.4L588.2 142.3L586.1 144.3ZM584.9 148.5L587.1 146.5L589.2 148.5L587.1 150.4ZM585.9 109.2L588.1 107.2L590.2 109.2L588.1 111.1ZM587.0 130.0L589.1 128.0L591.3 130.0L589.1 131.9ZM588.0 138.8L590.1 136.8L592.3 138.8L590.1 140.7ZM589.0 141.4L591.2 139.5L593.3 141.4L591.2 143.4ZM590.0 138.6L592.2 136.7L594.3 138.6L592.2 140.6ZM591.1 130.3L593.2 128.4L595.4 130.3L593.2 132.3ZM592.1 141.1L594.2 139.1L596.4 141.1L594.2 143.0ZM593.1 107.5L595.2 105.5L597.4 107.5L595.2 109.4ZM594.1 135.0L596.3 133.0L598.4 135.0L596.3 136.9ZM595.1 135.4L597.3 133.4L599.4 135.4L597.3 137.3ZM596.2 123.1L598.3 121.1L600.5 123.1L598.3 125.0ZM597.2 110.5L599.3 108.5L601.5 110.5L599.3 112.4ZM598.2 112.2L600.3 110.3L602.5 112.2L600.3 114.2ZM599.2 133.1L601.4 131.2L603.5 133.1L601.4 135.1ZM600.2 125.0L602.4 123.1L604.5 125.0L602.4 127.0ZM601.3 126.6L603.4 124.6L605.6 126.6L603.4 128.5ZM602.3 122.6L604.4 120.6L606.6 122.6L604.4 124.5ZM603.3 126.0L605.5 124.1L607.6 126.0L605.5 128.0ZM604.3 140.0L606.5 138.0L608.6 140.0L606.5 141.9ZM605.3 143.9L607.5 142.0L609.6 143.9L607.5 145.9ZM606.4 127.9L608.5 126.0L610.7 127.9L608.5 129.9ZM607.4 143.7L609.5 141.8L611.7 143.7L609.5 145.7ZM608.4 115.1L610.6 113.2L612.7 115.1L610.6 117.1ZM609.4 130.5L611.6 128.5L613.7 130.5L611.6 132.4ZM610.5 142.9L612.6 141.0L614.8 142.9L612.6 144.9ZM611.5 135.3L613.6 133.3L615.8 135.3L613.6 137.2ZM612.5 137.7L614.6 135.7L616.8 137.7L614.6 139.6ZM613.5 133.4L615.7 131.5L617.8 133.4L615.7 135.4ZM614.5 121.0L616.7 119.1L618.8 121.0L616.7 123.0ZM615.6 148.0L617.7 146.0L619.9 148.0L617.7 149.9ZM616.6 152.6L618.7 150.7L620.9 152.6L618.7 154.6ZM617.6 127.4L619.7 125.5L621.9 127.4L619.7 129.4ZM618.6 133.1L620.8 131.1L622.9 133.1L620.8 135.0ZM619.6 129.0L621.8 127.1L623.9 129.0L621.8 131.0ZM620.7 125.7L622.8 123.7L625.0 125.7L622.8 127.6ZM621.7 132.6L623.8 130.7L626.0 132.6L623.8 134.6ZM622.7 121.3L624.9 119.3L627.0 121.3L624.9 123.2ZM623.7 140.3L625.9 138.4L628.0 140.3L625.9 142.3ZM624.7 129.3L626.9 127.3L629.0 129.3L626.9 131.2ZM625.8 139.3L627.9 137.3L630.1 139.3L627.9 141.2ZM626.8 142.5L628.9 140.6L631.1 142.5L628.9 144.5ZM627.8 122.5L630.0 120.6L632.1 122.5L630.0 124.5ZM628.8 122.9L631.0 120.9L633.1 122.9L631.0 124.8ZM629.8 151.2L632.0 149.3L634.1 151.2L632.0 153.2ZM630.9 141.7L633.0 139.8L635.2 141.7L633.0 143.7ZM631.9 125.5L634.0 123.6L636.2 125.5L634.0 127.5ZM632.9 116.5L635.1 114.6L637.2 116.5L635.1 118.5ZM633.9 136.0L636.1 134.1L638.2 136.0L636.1 138.0ZM635.0 130.4L637.1 128.4L639.3 130.4L637.1 132.3ZM636.0 144.2L638.1 142.2L640.3 144.2L638.1 146.1ZM637.0 99.5L639.1 97.5L641.3 99.5L639.1 101.4ZM638.0 122.4L640.2 120.5L642.3 122.4L640.2 124.4ZM639.0 117.5L641.2 115.5L643.3 117.5L641.2 119.4ZM640.1 120.0L642.2 118.0L644.4 120.0L642.2 121.9ZM641.1 116.7L643.2 114.7L645.4 116.7L643.2 118.6ZM642.1 120.2L644.2 118.3L646.4 120.2L644.2 122.2ZM643.1 130.8L645.3 128.8L647.4 130.8L645.3 132.7ZM644.1 118.3L646.3 116.4L648.4 118.3L646.3 120.3ZM645.2 125.7L647.3 123.8L649.5 125.7L647.3 127.7ZM646.2 111.8L648.3 109.9L650.5 111.8L648.3 113.8ZM647.2 135.0L649.4 133.0L651.5 135.0L649.4 136.9ZM648.2 132.8L650.4 130.9L652.5 132.8L650.4 134.8ZM649.2 119.3L651.4 117.3L653.5 119.3L651.4 121.2ZM650.3 112.3L652.4 110.4L654.6 112.3L652.4 114.3ZM651.3 125.3L653.4 123.4L655.6 125.3L653.4 127.3ZM652.3 135.1L654.5 133.2L656.6 135.1L654.5 137.1ZM653.3 128.5L655.5 126.5L657.6 128.5L655.5 130.4ZM654.4 132.9L656.5 130.9L658.7 132.9L656.5 134.8ZM655.4 105.8L657.5 103.8L659.7 105.8L657.5 107.7ZM656.4 117.2L658.5 115.2L660.7 117.2L658.5 119.1ZM657.4 113.1L659.6 111.2L661.7 113.1L659.6 115.1ZM658.4 124.1L660.6 122.2L662.7 124.1L660.6 126.1ZM659.5 134.0L661.6 132.0L663.8 134.0L661.6 135.9ZM660.5 114.4L662.6 112.5L664.8 114.4L662.6 116.4ZM661.5 109.1L663.6 107.1L665.8 109.1L663.6 111.0ZM662.5 121.2L664.7 119.2L666.8 121.2L664.7 123.1ZM663.5 128.0L665.7 126.0L667.8 128.0L665.7 129.9ZM664.6 115.4L666.7 113.4L668.9 115.4L666.7 117.3ZM665.6 131.8L667.7 129.8L669.9 131.8L667.7 133.7ZM666.6 118.8L668.8 116.8L670.9 118.8L668.8 120.7ZM667.6 135.5L669.8 133.5L671.9 135.5L669.8 137.4ZM668.6 138.3L670.8 136.4L672.9 138.3L670.8 140.3ZM669.7 120.8L671.8 118.8L674.0 120.8L671.8 122.7ZM670.7 123.3L672.8 121.4L675.0 123.3L672.8 125.3ZM671.7 105.4L673.9 103.5L676.0 105.4L673.9 107.4ZM672.7 130.2L674.9 128.2L677.0 130.2L674.9 132.1ZM673.7 126.6L675.9 124.7L678.0 126.6L675.9 128.6ZM674.8 139.8L676.9 137.8L679.1 139.8L676.9 141.7ZM675.8 148.0L677.9 146.0L680.1 148.0L677.9 149.9ZM676.8 146.9L679.0 144.9L681.1 146.9L679.0 148.8ZM677.8 121.3L680.0 119.4L682.1 121.3L680.0 123.3ZM678.9 139.8L681.0 137.9L683.2 139.8L681.0 141.8ZM679.9 113.8L682.0 111.8L684.2 113.8L682.0 115.7ZM680.9 110.5L683.0 108.6L685.2 110.5L683.0 112.5ZM681.9 130.0L684.1 128.0L686.2 130.0L684.1 131.9ZM682.9 108.0L685.1 106.0L687.2 108.0L685.1 109.9ZM684.0 124.3L686.1 122.4L688.3 124.3L686.1 126.3ZM685.0 114.2L687.1 112.2L689.3 114.2L687.1 116.1ZM686.0 129.6L688.2 127.6L690.3 129.6L688.2 131.5ZM687.0 116.2L689.2 114.3L691.3 116.2L689.2 118.2ZM688.0 137.9L690.2 135.9L692.3 137.9L690.2 139.8ZM689.1 120.2L691.2 118.2L693.4 120.2L691.2 122.1ZM690.1 132.6L692.2 130.6L694.4 132.6L692.2 134.5ZM691.1 128.9L693.3 127.0L695.4 128.9L693.3 130.9ZM692.1 120.3L694.3 118.4L696.4 120.3L694.3 122.3ZM693.1 125.6L695.3 123.7L697.4 125.6L695.3 127.6ZM694.2 128.5L696.3 126.5L698.5 128.5L696.3 130.4ZM695.2 119.5L697.3 117.5L699.5 119.5L697.3 121.4ZM696.2 118.7L698.4 116.7L700.5 118.7L698.4 120.6ZM697.2 143.6L699.4 141.6L701.5 143.6L699.4 145.5ZM698.3 121.5L700.4 119.5L702.6 121.5L700.4 123.4ZM699.3 120.1L701.4 118.2L703.6 120.1L701.4 122.1ZM700.3 136.3L702.4 134.3L704.6 136.3L702.4 138.2ZM701.3 123.3L703.5 121.4L705.6 123.3L703.5 125.3ZM702.3 142.7L704.5 140.7L706.6 142.7L704.5 144.6ZM703.4 111.3L705.5 109.3L707.7 111.3L705.5 113.2ZM704.4 130.3L706.5 128.3L708.7 130.3L706.5 132.2ZM705.4 128.4L707.5 126.5L709.7 128.4L707.5 130.4ZM706.4 114.0L708.6 112.1L710.7 114.0L708.6 116.0ZM707.4 129.4L709.6 127.4L711.7 129.4L709.6 131.3ZM708.5 121.1L710.6 119.2L712.8 121.1L710.6 123.1ZM709.5 140.0L711.6 138.0L713.8 140.0L711.6 141.9ZM710.5 134.7L712.7 132.8L714.8 134.7L712.7 136.7ZM711.5 144.2L713.7 142.3L715.8 144.2L713.7 146.2ZM712.5 131.0L714.7 129.0L716.8 131.0L714.7 132.9ZM713.6 117.0L715.7 115.1L717.9 117.0L715.7 119.0ZM714.6 126.4L716.7 124.4L718.9 126.4L716.7 128.3ZM715.6 119.0L717.8 117.1L719.9 119.0L717.8 121.0ZM716.6 140.9L718.8 138.9L720.9 140.9L718.8 142.8ZM717.7 139.4L719.8 137.5L722.0 139.4L719.8 141.4ZM718.7 134.9L720.8 132.9L723.0 134.9L720.8 136.8ZM719.7 123.2L721.8 121.3L724.0 123.2L721.8 125.2ZM720.7 125.9L722.9 123.9L725.0 125.9L722.9 127.8ZM721.7 130.2L723.9 128.3L726.0 130.2L723.9 132.2ZM722.8 123.2L724.9 121.2L727.1 123.2L724.9 125.1ZM723.8 132.1L725.9 130.2L728.1 132.1L725.9 134.1ZM724.8 130.8L726.9 128.9L729.1 130.8L726.9 132.8ZM725.8 115.9L728.0 114.0L730.1 115.9L728.0 117.9ZM726.8 137.6L729.0 135.6L731.1 137.6L729.0 139.5ZM727.9 129.0L730.0 127.1L732.2 129.0L730.0 131.0ZM728.9 113.0L731.0 111.0L733.2 113.0L731.0 114.9ZM729.9 130.3L732.1 128.3L734.2 130.3L732.1 132.2ZM730.9 123.6L733.1 121.6L735.2 123.6L733.1 125.5ZM731.9 138.7L734.1 136.7L736.2 138.7L734.1 140.6ZM733.0 109.8L735.1 107.8L737.3 109.8L735.1 111.7ZM734.0 157.7L736.1 155.7L738.3 157.7L736.1 159.6ZM735.0 145.2L737.2 143.2L739.3 145.2L737.2 147.1ZM736.0 144.4L738.2 142.5L740.3 144.4L738.2 146.4ZM737.0 114.3L739.2 112.3L741.3 114.3L739.2 116.2ZM738.1 128.8L740.2 126.9L742.4 128.8L740.2 130.8ZM739.1 135.9L741.2 133.9L743.4 135.9L741.2 137.8ZM740.1 147.1L742.3 145.2L744.4 147.1L742.3 149.1ZM741.1 128.1L743.3 126.1L745.4 128.1L743.3 130.0ZM742.2 130.6L744.3 128.7L746.5 130.6L744.3 132.6ZM743.2 139.4L745.3 137.5L747.5 139.4L745.3 141.4ZM744.2 148.2L746.3 146.2L748.5 148.2L746.3 150.1ZM745.2 143.4L747.4 141.5L749.5 143.4L747.4 145.4ZM746.2 128.2L748.4 126.2L750.5 128.2L748.4 130.1ZM747.3 126.7L749.4 124.8L751.6 126.7L749.4 128.7ZM748.3 129.1L750.4 127.2L752.6 129.1L750.4 131.1ZM749.3 131.3L751.4 129.4L753.6 131.3L751.4 133.3ZM750.3 149.4L752.5 147.4L754.6 149.4L752.5 151.3ZM751.3 128.4L753.5 126.5L755.6 128.4L753.5 130.4ZM752.4 140.4L754.5 138.4L756.7 140.4L754.5 142.3ZM753.4 127.8L755.5 125.9L757.7 127.8L755.5 129.8ZM754.4 122.7L756.6 120.7L758.7 122.7L756.6 124.6ZM755.4 135.3L757.6 133.4L759.7 135.3L757.6 137.3ZM756.4 139.0L758.6 137.1L760.7 139.0L758.6 141.0ZM757.5 116.0L759.6 114.0L761.8 116.0L759.6 117.9ZM758.5 123.1L760.6 121.1L762.8 123.1L760.6 125.0ZM759.5 134.1L761.7 132.2L763.8 134.1L761.7 136.1ZM760.5 160.8L762.7 158.8L764.8 160.8L762.7 162.7ZM761.6 127.1L763.7 125.2L765.9 127.1L763.7 129.1ZM762.6 119.2L764.7 117.3L766.9 119.2L764.7 121.2ZM763.6 113.5L765.7 111.5L767.9 113.5L765.7 115.4ZM764.6 133.7L766.8 131.8L768.9 133.7L766.8 135.7ZM765.6 133.1L767.8 131.2L769.9 133.1L767.8 135.1ZM766.7 130.7L768.8 128.8L771.0 130.7L768.8 132.7ZM767.7 116.0L769.8 114.0L772.0 116.0L769.8 117.9ZM768.7 138.7L770.8 136.7L773.0 138.7L770.8 140.6ZM769.7 126.4L771.9 124.5L774.0 126.4L771.9 128.4ZM770.7 135.5L772.9 133.5L775.0 135.5L772.9 137.4ZM771.8 121.8L773.9 119.8L776.1 121.8L773.9 123.7ZM772.8 142.3L774.9 140.3L777.1 142.3L774.9 144.2ZM773.8 120.2L776.0 118.2L778.1 120.2L776.0 122.1ZM774.8 129.9L777.0 128.0L779.1 129.9L777.0 131.9ZM775.8 126.7L778.0 124.7L780.1 126.7L778.0 128.6ZM776.9 118.0L779.0 116.0L781.2 118.0L779.0 119.9ZM777.9 110.8L780.0 108.8L782.2 110.8L780.0 112.7ZM778.9 142.9L781.1 140.9L783.2 142.9L781.1 144.8ZM779.9 112.0L782.1 110.1L784.2 112.0L782.1 114.0ZM780.9 116.9L783.1 115.0L785.2 116.9L783.1 118.9ZM782.0 126.4L784.1 124.5L786.3 126.4L784.1 128.4ZM783.0 107.0L785.1 105.0L787.3 107.0L785.1 108.9ZM784.0 120.6L786.2 118.7L788.3 120.6L786.2 122.6ZM785.0 107.9L787.2 106.0L789.3 107.9L787.2 109.9ZM786.1 129.1L788.2 127.2L790.4 129.1L788.2 131.1ZM787.1 132.1L789.2 130.1L791.4 132.1L789.2 134.0ZM788.1 108.2L790.2 106.2L792.4 108.2L790.2 110.1ZM789.1 97.4L791.3 95.4L793.4 97.4L791.3 99.3ZM790.1 114.7L792.3 112.7L794.4 114.7L792.3 116.6ZM791.2 111.7L793.3 109.7L795.5 111.7L793.3 113.6ZM792.2 127.1L794.3 125.1L796.5 127.1L794.3 129.0ZM793.2 136.7L795.4 134.7L797.5 136.7L795.4 138.6ZM794.2 124.1L796.4 122.2L798.5 124.1L796.4 126.1ZM795.2 104.4L797.4 102.5L799.5 104.4L797.4 106.4ZM796.3 142.5L798.4 140.6L800.6 142.5L798.4 144.5ZM797.3 126.9L799.4 125.0L801.6 126.9L799.4 128.9ZM798.3 143.0L800.5 141.0L802.6 143.0L800.5 144.9ZM799.3 119.9L801.5 118.0L803.6 119.9L801.5 121.9ZM800.3 111.2L802.5 109.2L804.6 111.2L802.5 113.1ZM801.4 135.1L803.5 133.2L805.7 135.1L803.5 137.1ZM802.4 125.6L804.5 123.6L806.7 125.6L804.5 127.5ZM803.4 105.8L805.6 103.9L807.7 105.8L805.6 107.8ZM804.4 121.8L806.6 119.8L808.7 121.8L806.6 123.7ZM805.5 134.8L807.6 132.8L809.8 134.8L807.6 136.7ZM806.5 135.6L808.6 133.6L810.8 135.6L808.6 137.5ZM807.5 143.4L809.6 141.4L811.8 143.4L809.6 145.3ZM808.5 111.6L810.7 109.6L812.8 111.6L810.7 113.5ZM809.5 128.7L811.7 126.7L813.8 128.7L811.7 130.6ZM810.6 108.2L812.7 106.2L814.9 108.2L812.7 110.1ZM811.6 110.1L813.7 108.2L815.9 110.1L813.7 112.1ZM812.6 127.3L814.7 125.3L816.9 127.3L814.7 129.2ZM813.6 125.7L815.8 123.7L817.9 125.7L815.8 127.6ZM814.6 110.7L816.8 108.7L818.9 110.7L816.8 112.6ZM815.7 117.7L817.8 115.7L820.0 117.7L817.8 119.6ZM816.7 116.2L818.8 114.3L821.0 116.2L818.8 118.2ZM818.7 126.3L820.9 124.3L823.0 126.3L820.9 128.2ZM819.7 96.8L821.9 94.9L824.0 96.8L821.9 98.8ZM820.8 116.4L822.9 114.5L825.1 116.4L822.9 118.4ZM821.8 131.7L823.9 129.7L826.1 131.7L823.9 133.6ZM822.8 112.4L825.0 110.4L827.1 112.4L825.0 114.3ZM823.8 100.0L826.0 98.1L828.1 100.0L826.0 102.0ZM824.9 81.3L827.0 79.3L829.1 81.3L827.0 83.2ZM825.9 109.5L828.0 107.6L830.2 109.5L828.0 111.5ZM826.9 120.7L829.0 118.7L831.2 120.7L829.0 122.6ZM827.9 81.7L830.1 79.8L832.2 81.7L830.1 83.7ZM828.9 104.3L831.1 102.3L833.2 104.3L831.1 106.2ZM830.0 109.3L832.1 107.3L834.3 109.3L832.1 111.2ZM831.0 118.8L833.1 116.8L835.3 118.8L833.1 120.7ZM832.0 118.2L834.1 116.3L836.3 118.2L834.1 120.2ZM833.0 90.3L835.2 88.3L837.3 90.3L835.2 92.2ZM834.0 110.4L836.2 108.5L838.3 110.4L836.2 112.4ZM835.1 113.5L837.2 111.5L839.4 113.5L837.2 115.4ZM836.1 112.4L838.2 110.4L840.4 112.4L838.2 114.3ZM837.1 88.0L839.3 86.1L841.4 88.0L839.3 90.0ZM838.1 111.8L840.3 109.8L842.4 111.8L840.3 113.7ZM839.1 97.2L841.3 95.2L843.4 97.2L841.3 99.1ZM840.2 100.5L842.3 98.6L844.5 100.5L842.3 102.5ZM841.2 100.0L843.3 98.1L845.5 100.0L843.3 102.0ZM842.2 112.0L844.4 110.0L846.5 112.0L844.4 113.9ZM843.2 93.7L845.4 91.8L847.5 93.7L845.4 95.7ZM844.2 82.2L846.4 80.2L848.5 82.2L846.4 84.1ZM845.3 100.3L847.4 98.3L849.6 100.3L847.4 102.2ZM846.3 109.7L848.4 107.7L850.6 109.7L848.4 111.6ZM847.3 113.9L849.5 112.0L851.6 113.9L849.5 115.9ZM848.3 97.1L850.5 95.1L852.6 97.1L850.5 99.0ZM849.4 102.3L851.5 100.4L853.7 102.3L851.5 104.3ZM850.4 100.4L852.5 98.5L854.7 100.4L852.5 102.4ZM851.4 99.1L853.5 97.2L855.7 99.1L853.5 101.1ZM852.4 116.0L854.6 114.0L856.7 116.0L854.6 117.9ZM853.4 90.4L855.6 88.4L857.7 90.4L855.6 92.3ZM854.5 96.6L856.6 94.6L858.8 96.6L856.6 98.5ZM855.5 100.1L857.6 98.1L859.8 100.1L857.6 102.0ZM856.5 96.6L858.6 94.7L860.8 96.6L858.6 98.6ZM857.5 89.2L859.7 87.3L861.8 89.2L859.7 91.2ZM858.5 99.8L860.7 97.9L862.8 99.8L860.7 101.8ZM859.6 110.8L861.7 108.8L863.9 110.8L861.7 112.7ZM860.6 88.6L862.7 86.6L864.9 88.6L862.7 90.5ZM861.6 107.5L863.8 105.5L865.9 107.5L863.8 109.4ZM862.6 111.5L864.8 109.5L866.9 111.5L864.8 113.4ZM863.6 121.7L865.8 119.7L867.9 121.7L865.8 123.6ZM864.7 104.6L866.8 102.6L869.0 104.6L866.8 106.5ZM865.7 117.3L867.8 115.3L870.0 117.3L867.8 119.2ZM866.7 112.0L868.9 110.0L871.0 112.0L868.9 113.9ZM867.7 100.9L869.9 99.0L872.0 100.9L869.9 102.9ZM868.8 105.5L870.9 103.5L873.1 105.5L870.9 107.4ZM869.8 94.1L871.9 92.2L874.1 94.1L871.9 96.1ZM870.8 102.0L872.9 100.1L875.1 102.0L872.9 104.0ZM871.8 106.6L874.0 104.6L876.1 106.6L874.0 108.5ZM872.8 105.5L875.0 103.5L877.1 105.5L875.0 107.4ZM873.9 107.3L876.0 105.3L878.2 107.3L876.0 109.2ZM874.9 93.9L877.0 92.0L879.2 93.9L877.0 95.9ZM875.9 100.8L878.0 98.9L880.2 100.8L878.0 102.8ZM876.9 105.5L879.1 103.5L881.2 105.5L879.1 107.4ZM877.9 91.0L880.1 89.1L882.2 91.0L880.1 93.0ZM879.0 99.3L881.1 97.3L883.3 99.3L881.1 101.2ZM880.0 105.4L882.1 103.5L884.3 105.4L882.1 107.4ZM881.0 117.1L883.2 115.1L885.3 117.1L883.2 119.0ZM882.0 94.7L884.2 92.7L886.3 94.7L884.2 96.6ZM883.0 96.7L885.2 94.8L887.3 96.7L885.2 98.7ZM884.1 98.6L886.2 96.7L888.4 98.6L886.2 100.6ZM885.1 103.9L887.2 101.9L889.4 103.9L887.2 105.8ZM886.1 108.2L888.3 106.2L890.4 108.2L888.3 110.1ZM887.1 101.1L889.3 99.1L891.4 101.1L889.3 103.0ZM888.1 95.6L890.3 93.7L892.4 95.6L890.3 97.6ZM889.2 99.5L891.3 97.5L893.5 99.5L891.3 101.4ZM890.2 99.6L892.3 97.6L894.5 99.6L892.3 101.5ZM891.2 103.4L893.4 101.4L895.5 103.4L893.4 105.3ZM892.2 94.3L894.4 92.4L896.5 94.3L894.4 96.3ZM893.3 95.7L895.4 93.7L897.6 95.7L895.4 97.6ZM894.3 107.0L896.4 105.0L898.6 107.0L896.4 108.9ZM895.3 89.9L897.4 88.0L899.6 89.9L897.4 91.9ZM896.3 89.7L898.5 87.8L900.6 89.7L898.5 91.7ZM897.3 89.6L899.5 87.6L901.6 89.6L899.5 91.5ZM898.4 100.4L900.5 98.5L902.7 100.4L900.5 102.4ZM899.4 101.3L901.5 99.3L903.7 101.3L901.5 103.2ZM900.4 112.4L902.6 110.4L904.7 112.4L902.6 114.3ZM901.4 90.6L903.6 88.7L905.7 90.6L903.6 92.6ZM902.4 123.3L904.6 121.3L906.7 123.3L904.6 125.2ZM903.5 103.4L905.6 101.4L907.8 103.4L905.6 105.3ZM904.5 102.7L906.6 100.7L908.8 102.7L906.6 104.6ZM905.5 89.0L907.7 87.0L909.8 89.0L907.7 90.9ZM906.5 98.6L908.7 96.6L910.8 98.6L908.7 100.5ZM907.5 109.4L909.7 107.4L911.8 109.4L909.7 111.3ZM908.6 114.5L910.7 112.5L912.9 114.5L910.7 116.4ZM909.6 106.4L911.7 104.5L913.9 106.4L911.7 108.4ZM910.6 96.8L912.8 94.9L914.9 96.8L912.8 98.8ZM911.6 97.3L913.8 95.3L915.9 97.3L913.8 99.2ZM912.7 100.0L914.8 98.1L917.0 100.0L914.8 102.0ZM913.7 105.4L915.8 103.4L918.0 105.4L915.8 107.3ZM914.7 99.9L916.8 97.9L919.0 99.9L916.8 101.8ZM915.7 86.0L917.9 84.0L920.0 86.0L917.9 87.9ZM916.7 109.7L918.9 107.7L921.0 109.7L918.9 111.6ZM917.8 96.6L919.9 94.7L922.1 96.6L919.9 98.6ZM918.8 78.5L920.9 76.5L923.1 78.5L920.9 80.4ZM919.8 90.4L921.9 88.5L924.1 90.4L921.9 92.4ZM920.8 101.7L923.0 99.8L925.1 101.7L923.0 103.7ZM921.8 88.9L924.0 87.0L926.1 88.9L924.0 90.9ZM922.9 104.9L925.0 103.0L927.2 104.9L925.0 106.9ZM923.9 96.3L926.0 94.4L928.2 96.3L926.0 98.3ZM924.9 78.8L927.1 76.8L929.2 78.8L927.1 80.7ZM925.9 74.9L928.1 73.0L930.2 74.9L928.1 76.9Z" fill="#00ffff"/>
<path class="tri" d="M93.4 283.75L100.5 280.1V287.4Z"/>
<path class="tri" d="M210.8 187.3L217.8 183.7V190.9Z"/>
<path class="tri" d="M355.4 126.55L362.5 123.0V130.2Z"/>
<path class="tri" d="M636.1 65.8L643.2 62.2V69.4Z"/>
<text transform="translate(125.2,34) scale(1.322,1)" text-anchor="start">Dog #4</text>
<text transform="translate(468.8,29) scale(1.322,1)" text-anchor="start">Alternative Sampling Site</text>
<text transform="translate(468.8,46.4) scale(1.322,1)" text-anchor="start">(Rear Leg)</text>
<text transform="translate(235.6,350.4) scale(1.322,1)" text-anchor="start">Fallout</text>
<text transform="translate(235.6,367.6) scale(1.322,1)" text-anchor="start">Period 1</text>
<text transform="translate(387.4,301.4) scale(1.322,1)" text-anchor="start">Fallout</text>
<text transform="translate(387.4,319) scale(1.322,1)" text-anchor="start">Period 2</text>
<text transform="translate(811.2,272.2) scale(1.322,1)" text-anchor="start">Fallout</text>
<text transform="translate(811.2,289.7) scale(1.322,1)" text-anchor="start">Period 3</text>
<path d="M582.4 44L622.3 57.9" stroke="#222" stroke-width="1" fill="none"/>
<path d="M626.8 59.8L616.3 59.4L622 57.6L619.3 53.4Z" fill="#111"/>
<rect class="ax" x="656.3" y="322.5" width="292.2" height="42" fill="#fff"/>
<path d="M678.8 334.0L680.9 332.1L683.0 334.0L680.9 335.9Z" fill="#00ffff"/>
<path class="tri" d="M676.4 352.9L683.5 349.3V356.5Z"/>
<text transform="translate(701.7,338.2) scale(1.322,1)" text-anchor="start">ISF (Sencil)</text>
<text transform="translate(701.7,358) scale(1.322,1)" text-anchor="start">Plasma (Hitachi 7050)</text>
</svg></body></html>
